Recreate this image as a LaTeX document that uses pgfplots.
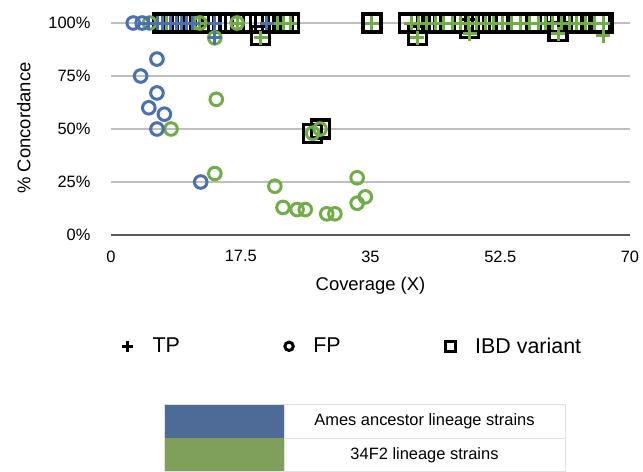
\documentclass[border=0pt]{standalone}
\usepackage{pgfplots}
\pgfplotsset{compat=1.18}
\usepackage{fontspec}
\setmainfont{Liberation Sans}
\definecolor{ablue}{HTML}{4A70B0}
\definecolor{fgreen}{HTML}{70AD47}
\definecolor{lblue}{HTML}{4E6B98}
\definecolor{lgreen}{HTML}{7FA05A}
\definecolor{gridc}{HTML}{BFBFBF}
\definecolor{axc}{HTML}{595959}
\begin{document}
\begin{tikzpicture}
\path[use as bounding box] (0,0) rectangle (643bp,-472bp);
\begin{axis}[
  at={(111bp,-235bp)}, anchor=south west,
  scale only axis, width=519bp, height=212bp,
  xmin=0, xmax=70, ymin=0, ymax=100,
  clip=false,
  axis lines=left,
  x axis line style={axc, line width=2bp, -},
  y axis line style={draw=none},
  major tick length=0pt,
  ymajorgrids, grid style={gridc, line width=1.3bp},
  xtick={0,17.5,35,52.5,70},
  xticklabels={0,17.5,35,52.5,70},
  ytick={0,25,50,75,100},
  yticklabels={0\%,25\%,50\%,75\%,100\%},
  /pgf/number format/assume math mode=true,
  tick label style={font=\fontsize{16.5}{18}\selectfont},
  x tick label style={yshift=-12bp},
  y tick label style={xshift=-17bp},
  xlabel={Coverage (X)},
  ylabel={\% Concordance},
  label style={font=\fontsize{18.5}{20}\selectfont},
  xlabel style={at={(axis description cs:0.5,-0.24)}, anchor=center},
  ylabel style={at={(axis description cs:-0.168,0.505)}, anchor=center, rotate=0},
  legend columns=3,
  legend style={at={(axis description cs:0.465,-0.525)}, anchor=center, draw=none, fill=none,
    font=\fontsize{21.5}{23}\selectfont,
    /tikz/every even column/.append style={column sep=103bp}},
]
\addlegendimage{only marks, mark=+, black, mark size=5.5bp, line width=3bp}
\addlegendentry{\hspace{18bp}TP}
\addlegendimage{only marks, mark=o, black, mark size=4.2bp, line width=3bp}
\addlegendentry{\hspace{18bp}FP}
\addlegendimage{only marks, mark=square, black, mark size=4.8bp, line width=3bp}
\addlegendentry{\hspace{18bp}IBD variant}

% IBD variants (squares)
\addplot[forget plot, only marks, mark=square, mark size=9bp, line width=3.2bp, black] coordinates {
(7.0,100)(8.6,100)(10.2,100)(11.9,100)(13.5,100)(15.1,100)(16.7,100)(18.3,100)(20.0,100)(21.6,100)(23.2,100)(24.1,100)
(20.2,94)
(35.2,100)
(40.1,100)(41.7,100)(43.3,100)(44.8,100)(47.5,100)(49.1,100)(50.7,100)(52.3,100)(54.0,100)(54.8,100)
(57.5,100)(59.1,100)(60.7,100)(62.3,100)(63.3,100)(66.0,100)(66.4,100)
(41.3,94)(48.3,97.5)(60.3,96)
(27.2,48)(28.3,50)
};

% 34F2 FP (green circles)
\addplot[forget plot, only marks, mark=o, mark size=6.3bp, line width=3bp, fgreen] coordinates {
(5.2,100)(12.0,100)(17.0,100)(14.0,93)(8.1,50)(14.2,64)(14.0,29)(22.1,23)(23.2,13)(25.1,12)(26.2,12)
(29.1,10)(30.2,10)(33.2,27)(33.2,15)(34.3,18)(27.2,48)(28.2,50)
};

% 34F2 TP (green plus)
\addplot[forget plot, only marks, mark=+, mark size=7bp, line width=3bp, fgreen] coordinates {
(7.5,100)(11.2,100)(12.0,100)(17.0,100)(20.2,93)(22.4,100)(23.3,100)(24.2,100)
(35.2,100)
(40.5,100)(41.5,100)(42.5,100)(43.7,100)(44.8,100)(46.0,100)(47.2,100)(48.2,100)(49.3,100)(50.5,100)
(51.6,100)(52.8,100)(54.0,100)(55.2,100)(56.4,100)(57.6,100)(58.6,100)(59.6,100)(60.7,100)(61.8,100)
(62.8,100)(64.0,100)(65.2,100)(66.4,100)
(41.3,93)(48.4,95)(60.3,95)(66.4,94)
};

% Ames FP (blue circles)
\addplot[forget plot, only marks, mark=o, mark size=6.3bp, line width=3bp, ablue] coordinates {
(3.0,100)(4.2,100)(6.2,83)(4.0,75)(6.2,67)(5.1,60)(7.2,57)(6.2,50)(12.1,25)
};

% Ames TP (blue plus)
\addplot[forget plot, only marks, mark=+, mark size=7bp, line width=3bp, ablue] coordinates {
(5.0,100)(6.3,100)(7.0,100)(8.0,100)(8.8,100)(9.5,100)(10.2,100)(11.0,100)(14.0,100)(14.0,93)(21.0,100)
};
\end{axis}
% colour key table
\fill[lblue] (164bp,-404bp) rectangle (284bp,-438bp);
\fill[lgreen] (164bp,-438bp) rectangle (284bp,-472bp);
\draw[black!12, line width=0.8bp] (164bp,-404bp) rectangle (565bp,-471.6bp);
\draw[black!12, line width=0.8bp] (284bp,-438bp) -- (565bp,-438bp);
\draw[black!12, line width=0.8bp] (284bp,-404bp) -- (284bp,-472bp);
\node[font=\fontsize{16.5}{18}\selectfont] at (424.5bp,-421bp) {Ames ancestor lineage strains};
\node[font=\fontsize{16.5}{18}\selectfont] at (424.5bp,-455bp) {34F2 lineage strains};
\end{tikzpicture}
\end{document}
